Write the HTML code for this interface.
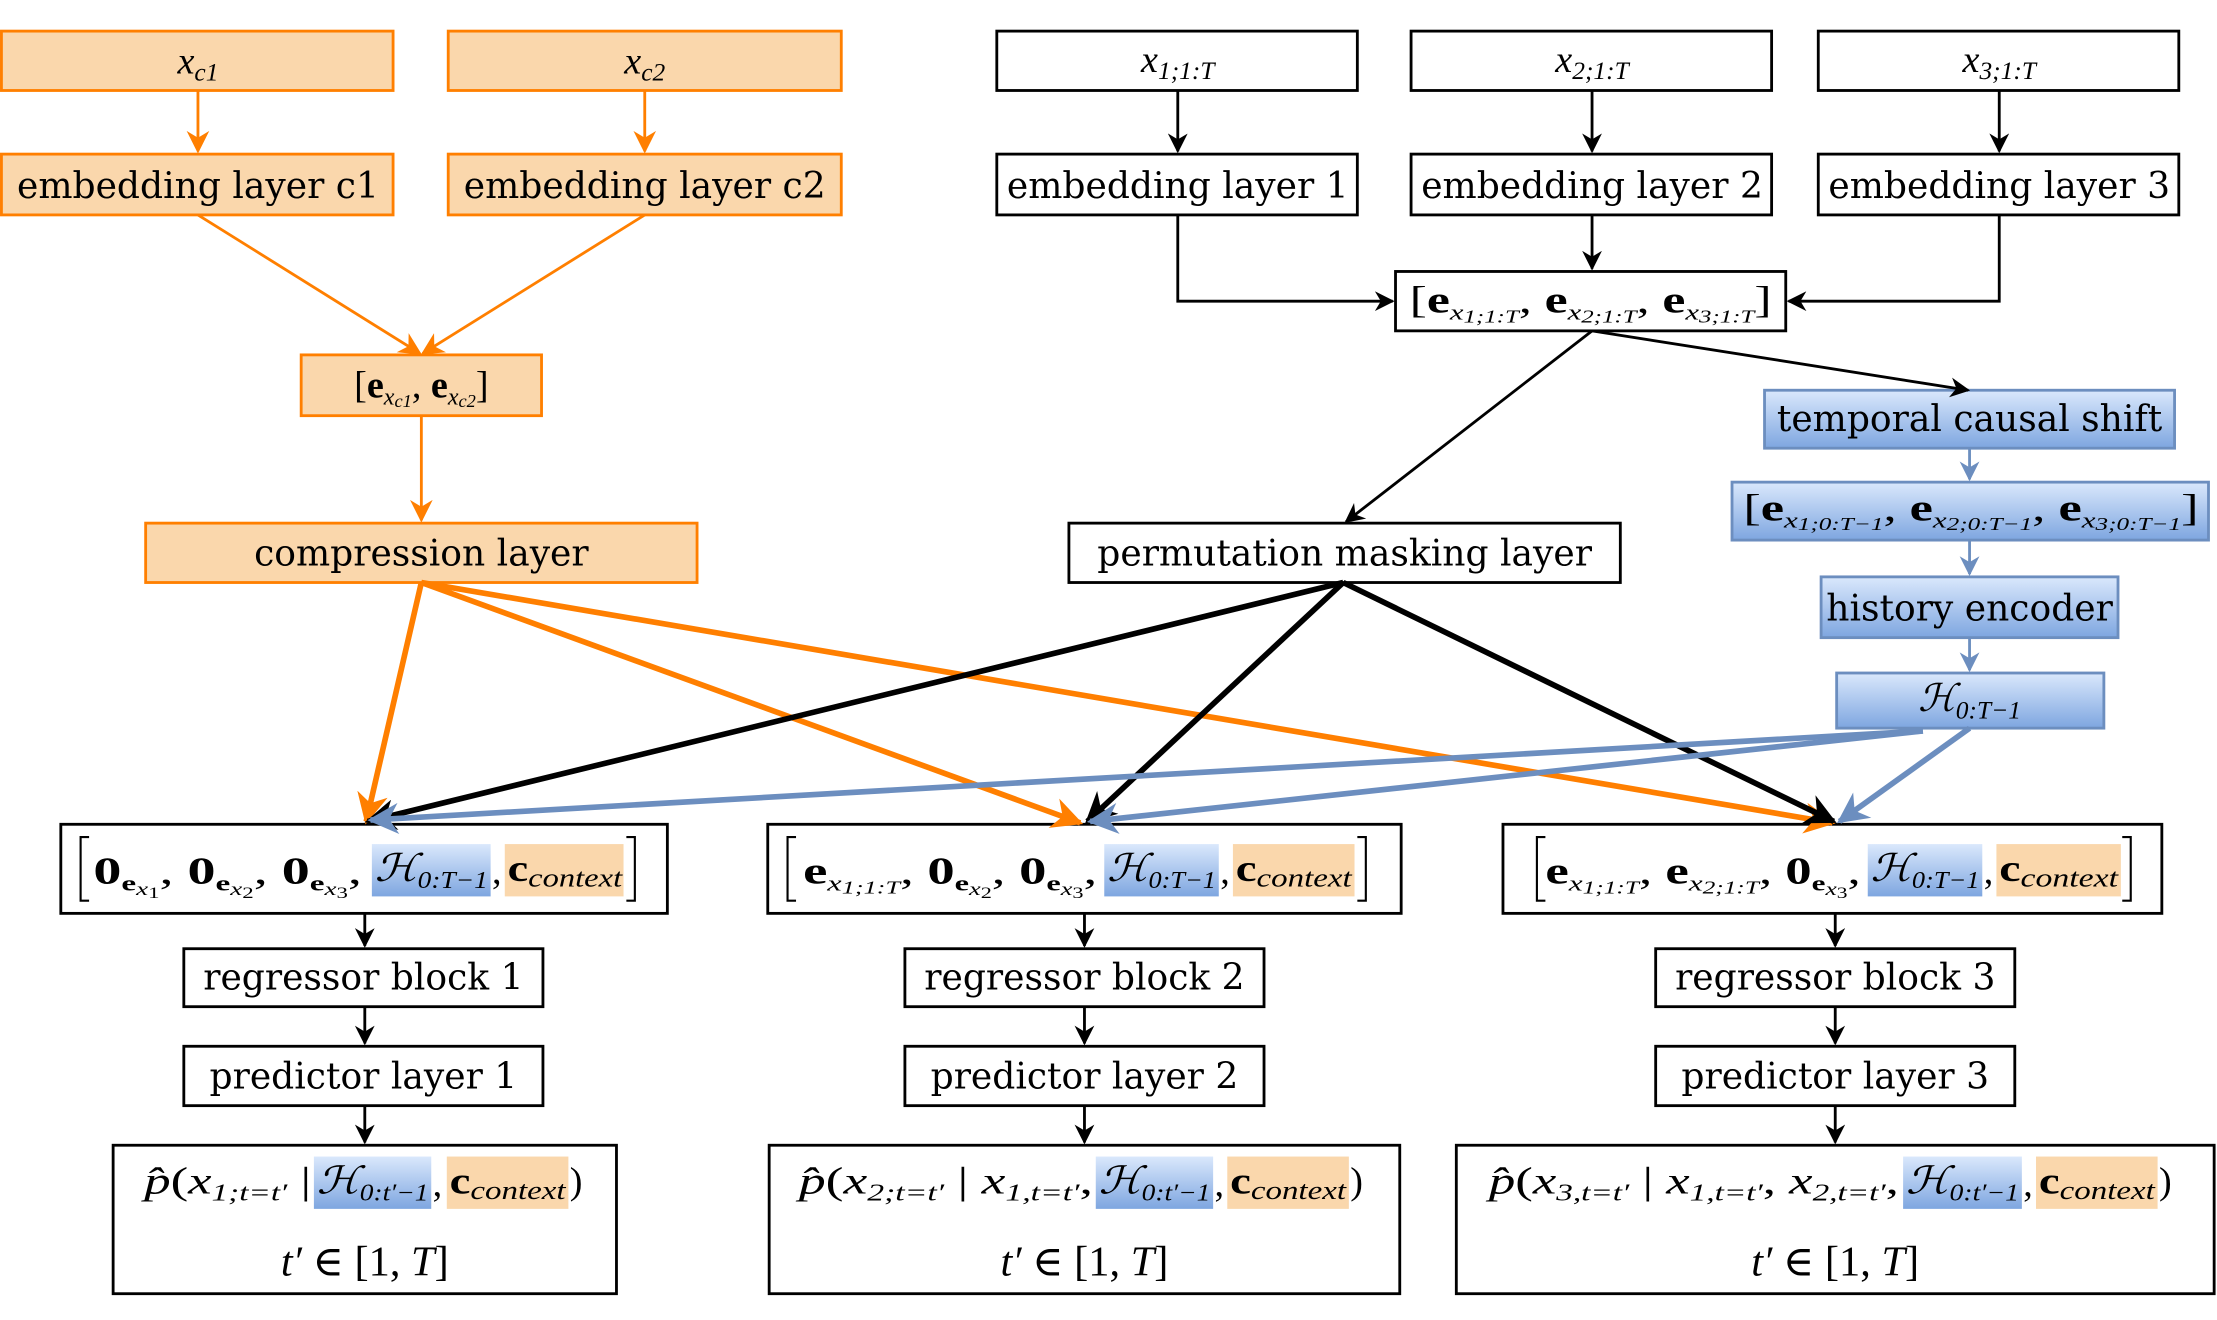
<!DOCTYPE html>
<html><head><meta charset="utf-8"><style>
html,body{margin:0;padding:0;background:#fff;}
svg{display:block;}
text{font-family:"DejaVu Serif","Liberation Serif",serif;fill:#000;}
.m text{font-family:"Liberation Serif","DejaVu Serif",serif;}
</style></head><body>
<svg width="2217" height="1320" viewBox="0 0 1568 933.6" xmlns="http://www.w3.org/2000/svg">
<defs>
<linearGradient id="bg" x1="0" y1="0" x2="0" y2="1"><stop offset="0" stop-color="#dae8fc"/><stop offset="1" stop-color="#7ea6e0"/></linearGradient>
<marker id="ak" viewBox="0 0 10 10" refX="9" refY="5" markerWidth="14" markerHeight="14" markerUnits="userSpaceOnUse" orient="auto"><path d="M0,0 L10,5 L0,10 L3,5 z" fill="#000"/></marker>
<marker id="akb" viewBox="0 0 10 10" refX="9" refY="5" markerWidth="22" markerHeight="22" markerUnits="userSpaceOnUse" orient="auto"><path d="M0,0 L10,5 L0,10 L3,5 z" fill="#000"/></marker>
<marker id="ao" viewBox="0 0 10 10" refX="9" refY="5" markerWidth="16" markerHeight="16" markerUnits="userSpaceOnUse" orient="auto"><path d="M0,0 L10,5 L0,10 L3,5 z" fill="#ff7f00"/></marker>
<marker id="aob" viewBox="0 0 10 10" refX="9" refY="5" markerWidth="22" markerHeight="22" markerUnits="userSpaceOnUse" orient="auto"><path d="M0,0 L10,5 L0,10 L3,5 z" fill="#ff7f00"/></marker>
<marker id="ab" viewBox="0 0 10 10" refX="9" refY="5" markerWidth="14" markerHeight="14" markerUnits="userSpaceOnUse" orient="auto"><path d="M0,0 L10,5 L0,10 L3,5 z" fill="#6c8ebf"/></marker>
<marker id="abb" viewBox="0 0 10 10" refX="9" refY="5" markerWidth="22" markerHeight="22" markerUnits="userSpaceOnUse" orient="auto"><path d="M0,0 L10,5 L0,10 L3,5 z" fill="#6c8ebf"/></marker>
</defs>

<g fill="#fad7ac" stroke="#ff7f00" stroke-width="2">
<rect x="1" y="22" width="277" height="42"/>
<rect x="317" y="22" width="278" height="42"/>
<rect x="1" y="109" width="277" height="43"/>
<rect x="317" y="109" width="278" height="43"/>
<rect x="213" y="251" width="170" height="43"/>
<rect x="103" y="370" width="390" height="42"/>
</g>
<g fill="#fff" stroke="#000" stroke-width="2">
<rect x="705" y="22" width="255" height="42"/>
<rect x="998" y="22" width="255" height="42"/>
<rect x="1286" y="22" width="255" height="42"/>
<rect x="705" y="109" width="255" height="43"/>
<rect x="998" y="109" width="255" height="43"/>
<rect x="1286" y="109" width="255" height="43"/>
<rect x="987" y="192" width="276" height="42"/>
<rect x="756" y="370" width="390" height="42"/>
<rect x="43" y="583" width="429" height="63"/>
<rect x="543" y="583" width="448" height="63"/>
<rect x="1063" y="583" width="466" height="63"/>
<rect x="130" y="671" width="254" height="41"/>
<rect x="640" y="671" width="254" height="41"/>
<rect x="1171" y="671" width="254" height="41"/>
<rect x="130" y="740" width="254" height="42"/>
<rect x="640" y="740" width="254" height="42"/>
<rect x="1171" y="740" width="254" height="42"/>
<rect x="80" y="810" width="356" height="105"/>
<rect x="544" y="810" width="446" height="105"/>
<rect x="1030" y="810" width="536" height="105"/>
</g>
<g fill="url(#bg)" stroke="#6c8ebf" stroke-width="2">
<rect x="1248" y="276" width="290" height="41"/>
<rect x="1225" y="341" width="337" height="41"/>
<rect x="1288" y="408" width="210" height="43"/>
<rect x="1299" y="476" width="189" height="39"/>
</g>
<g fill="url(#bg)">
<rect x="263" y="597" width="84" height="37"/><rect x="781" y="597" width="81" height="37"/><rect x="1321" y="597" width="81" height="37"/>
<rect x="222" y="818" width="83" height="37"/><rect x="775" y="818" width="83" height="37"/><rect x="1346" y="818" width="84" height="37"/>
</g>
<g fill="#fad7ac">
<rect x="357" y="597" width="84" height="37"/><rect x="872" y="597" width="86" height="37"/><rect x="1412" y="597" width="88" height="37"/>
<rect x="316" y="818" width="86" height="37"/><rect x="868" y="818" width="86" height="37"/><rect x="1440" y="818" width="86" height="37"/>
</g>

<g fill="none" stroke="#ff7f00" stroke-width="2">
<path d="M140,64 V107" marker-end="url(#ao)"/>
<path d="M456,64 V107" marker-end="url(#ao)"/>
<path d="M140,152 L297,250" marker-end="url(#ao)"/>
<path d="M456,152 L299,250" marker-end="url(#ao)"/>
<path d="M298,294 V368" marker-end="url(#ao)"/>
</g>
<g fill="none" stroke="#ff7f00" stroke-width="4">
<path d="M298,412 L259,581" marker-end="url(#aob)"/>
<path d="M298,412 L764,582" marker-end="url(#aob)"/>
<path d="M298,412 L1296,582" marker-end="url(#aob)"/>
</g>
<g fill="none" stroke="#000" stroke-width="2">
<path d="M833,64 V107" marker-end="url(#ak)"/>
<path d="M1126,64 V107" marker-end="url(#ak)"/>
<path d="M1414,64 V107" marker-end="url(#ak)"/>
<path d="M833,152 V213 H985" marker-end="url(#ak)"/>
<path d="M1126,152 V190" marker-end="url(#ak)"/>
<path d="M1414,152 V213 H1265" marker-end="url(#ak)"/>
<path d="M1126,234 L952,369" marker-end="url(#ak)"/>
<path d="M1126,234 L1392,276" marker-end="url(#ak)"/>
<path d="M258,646 V669" marker-end="url(#ak)"/>
<path d="M258,712 V738" marker-end="url(#ak)"/>
<path d="M258,782 V808" marker-end="url(#ak)"/>
<path d="M767,646 V669" marker-end="url(#ak)"/>
<path d="M767,712 V738" marker-end="url(#ak)"/>
<path d="M767,782 V808" marker-end="url(#ak)"/>
<path d="M1298,646 V669" marker-end="url(#ak)"/>
<path d="M1298,712 V738" marker-end="url(#ak)"/>
<path d="M1298,782 V808" marker-end="url(#ak)"/>
</g>
<g fill="none" stroke="#000" stroke-width="4">
<path d="M950,412 L260,581" marker-end="url(#akb)"/>
<path d="M950,412 L769,581" marker-end="url(#akb)"/>
<path d="M950,412 L1297,581" marker-end="url(#akb)"/>
</g>
<g fill="none" stroke="#6c8ebf" stroke-width="2">
<path d="M1393,317 V339" marker-end="url(#ab)"/>
<path d="M1393,382 V406" marker-end="url(#ab)"/>
<path d="M1393,451 V474" marker-end="url(#ab)"/>
</g>
<g fill="none" stroke="#6c8ebf" stroke-width="4">
<path d="M1360,517 L262,580" marker-end="url(#abb)"/>
<path d="M1360,517 L771,581" marker-end="url(#abb)"/>
<path d="M1393,515 L1301,581" marker-end="url(#abb)"/>
</g>

<g font-size="25.5" text-anchor="middle">
<text x="140" y="140">embedding layer c1</text>
<text x="456" y="140">embedding layer c2</text>
<text x="298" y="400">compression layer</text>
<text x="833" y="140">embedding layer 1</text>
<text x="1126" y="140">embedding layer 2</text>
<text x="1414" y="140">embedding layer 3</text>
<text x="951" y="400">permutation masking layer</text>
<text x="1393" y="305">temporal causal shift</text>
<text x="1393" y="439">history encoder</text>
<text x="257" y="700">regressor block 1</text>
<text x="767" y="700">regressor block 2</text>
<text x="1298" y="700">regressor block 3</text>
<text x="257" y="770">predictor layer 1</text>
<text x="767" y="770">predictor layer 2</text>
<text x="1298" y="770">predictor layer 3</text>
</g>
<g class="m" font-size="27">
<text x="140" y="52" text-anchor="middle" font-style="italic">x<tspan font-size="18" dy="5">c1</tspan></text>
<text x="456" y="52" text-anchor="middle" font-style="italic">x<tspan font-size="18" dy="5">c2</tspan></text>
<text x="833" y="51" text-anchor="middle" font-style="italic">x<tspan font-size="18" dy="5">1;1:T</tspan></text>
<text x="1126" y="51" text-anchor="middle" font-style="italic">x<tspan font-size="18" dy="5">2;1:T</tspan></text>
<text x="1414" y="51" text-anchor="middle" font-style="italic">x<tspan font-size="18" dy="5">3;1:T</tspan></text>
<text x="298" y="281" text-anchor="middle">[<tspan font-weight="bold">e</tspan><tspan font-size="17" dy="5" font-style="italic">x</tspan><tspan font-size="13" dy="2" font-style="italic">c1</tspan><tspan dy="-7">, </tspan><tspan font-weight="bold">e</tspan><tspan font-size="17" dy="5" font-style="italic">x</tspan><tspan font-size="13" dy="2" font-style="italic">c2</tspan><tspan dy="-7">]</tspan></text>
<text x="997" y="221" textLength="256" lengthAdjust="spacingAndGlyphs">[<tspan font-weight="bold">e</tspan><tspan font-size="16" dy="5" font-style="italic">x</tspan><tspan font-size="13" dy="2" font-style="italic">1;1:T</tspan><tspan dy="-7">, </tspan><tspan font-weight="bold">e</tspan><tspan font-size="16" dy="5" font-style="italic">x</tspan><tspan font-size="13" dy="2" font-style="italic">2;1:T</tspan><tspan dy="-7">, </tspan><tspan font-weight="bold">e</tspan><tspan font-size="16" dy="5" font-style="italic">x</tspan><tspan font-size="13" dy="2" font-style="italic">3;1:T</tspan><tspan dy="-7">]</tspan></text>
<text x="1233" y="368" textLength="322" lengthAdjust="spacingAndGlyphs">[<tspan font-weight="bold">e</tspan><tspan font-size="16" dy="5" font-style="italic">x</tspan><tspan font-size="13" dy="2" font-style="italic">1;0:T−1</tspan><tspan dy="-7">, </tspan><tspan font-weight="bold">e</tspan><tspan font-size="16" dy="5" font-style="italic">x</tspan><tspan font-size="13" dy="2" font-style="italic">2;0:T−1</tspan><tspan dy="-7">, </tspan><tspan font-weight="bold">e</tspan><tspan font-size="16" dy="5" font-style="italic">x</tspan><tspan font-size="13" dy="2" font-style="italic">3;0:T−1</tspan><tspan dy="-7">]</tspan></text>
<text x="1393" y="503" text-anchor="middle"><tspan font-style="italic" font-family="DejaVu Serif">ℋ</tspan><tspan font-size="18" dy="5" font-style="italic">0:T−1</tspan></text>

<text x="66" y="625" textLength="190" lengthAdjust="spacingAndGlyphs"><tspan font-weight="bold">0</tspan><tspan font-size="16" dy="5" font-weight="bold">e</tspan><tspan font-size="13" dy="3" font-style="italic">x</tspan><tspan font-size="11" dy="2">1</tspan><tspan dy="-10">, </tspan><tspan font-weight="bold">0</tspan><tspan font-size="16" dy="5" font-weight="bold">e</tspan><tspan font-size="13" dy="3" font-style="italic">x</tspan><tspan font-size="11" dy="2">2</tspan><tspan dy="-10">, </tspan><tspan font-weight="bold">0</tspan><tspan font-size="16" dy="5" font-weight="bold">e</tspan><tspan font-size="13" dy="3" font-style="italic">x</tspan><tspan font-size="11" dy="2">3</tspan><tspan dy="-10">,</tspan></text>
<text x="265" y="623" textLength="80" lengthAdjust="spacingAndGlyphs"><tspan font-style="italic" font-family="DejaVu Serif">ℋ</tspan><tspan font-size="17" dy="5" font-style="italic">0:T−1</tspan></text>
<text x="348" y="625">,</text>
<text x="359" y="623" textLength="81" lengthAdjust="spacingAndGlyphs"><tspan font-weight="bold">c</tspan><tspan font-size="19" dy="4" font-style="italic">context</tspan></text>

<text x="568" y="625" textLength="208" lengthAdjust="spacingAndGlyphs"><tspan font-weight="bold">e</tspan><tspan font-size="16" dy="5" font-style="italic">x</tspan><tspan font-size="13" dy="2" font-style="italic">1;1:T</tspan><tspan dy="-7">, </tspan><tspan font-weight="bold">0</tspan><tspan font-size="16" dy="5" font-weight="bold">e</tspan><tspan font-size="13" dy="3" font-style="italic">x</tspan><tspan font-size="11" dy="2">2</tspan><tspan dy="-10">, </tspan><tspan font-weight="bold">0</tspan><tspan font-size="16" dy="5" font-weight="bold">e</tspan><tspan font-size="13" dy="3" font-style="italic">x</tspan><tspan font-size="11" dy="2">3</tspan><tspan dy="-10">,</tspan></text>
<text x="783" y="623" textLength="77" lengthAdjust="spacingAndGlyphs"><tspan font-style="italic" font-family="DejaVu Serif">ℋ</tspan><tspan font-size="17" dy="5" font-style="italic">0:T−1</tspan></text>
<text x="863" y="625">,</text>
<text x="874" y="623" textLength="82" lengthAdjust="spacingAndGlyphs"><tspan font-weight="bold">c</tspan><tspan font-size="19" dy="4" font-style="italic">context</tspan></text>

<text x="1093" y="625" textLength="223" lengthAdjust="spacingAndGlyphs"><tspan font-weight="bold">e</tspan><tspan font-size="16" dy="5" font-style="italic">x</tspan><tspan font-size="13" dy="2" font-style="italic">1;1:T</tspan><tspan dy="-7">, </tspan><tspan font-weight="bold">e</tspan><tspan font-size="16" dy="5" font-style="italic">x</tspan><tspan font-size="13" dy="2" font-style="italic">2;1:T</tspan><tspan dy="-7">, </tspan><tspan font-weight="bold">0</tspan><tspan font-size="16" dy="5" font-weight="bold">e</tspan><tspan font-size="13" dy="3" font-style="italic">x</tspan><tspan font-size="11" dy="2">3</tspan><tspan dy="-10">,</tspan></text>
<text x="1323" y="623" textLength="77" lengthAdjust="spacingAndGlyphs"><tspan font-style="italic" font-family="DejaVu Serif">ℋ</tspan><tspan font-size="17" dy="5" font-style="italic">0:T−1</tspan></text>
<text x="1403" y="625">,</text>
<text x="1414" y="623" textLength="84" lengthAdjust="spacingAndGlyphs"><tspan font-weight="bold">c</tspan><tspan font-size="19" dy="4" font-style="italic">context</tspan></text>

<text x="102" y="844" textLength="118" lengthAdjust="spacingAndGlyphs"><tspan font-style="italic">p̂</tspan>(<tspan font-style="italic">x</tspan><tspan font-size="17" dy="5" font-style="italic">1;t=t′</tspan><tspan dy="-5"> | </tspan></text>
<text x="224" y="844" textLength="79" lengthAdjust="spacingAndGlyphs"><tspan font-style="italic" font-family="DejaVu Serif">ℋ</tspan><tspan font-size="17" dy="5" font-style="italic">0:t′−1</tspan></text>
<text x="306" y="846">,</text>
<text x="318" y="844" textLength="82" lengthAdjust="spacingAndGlyphs"><tspan font-weight="bold">c</tspan><tspan font-size="19" dy="4" font-style="italic">context</tspan></text>
<text x="403" y="844">)</text>

<text x="565" y="844" textLength="208" lengthAdjust="spacingAndGlyphs"><tspan font-style="italic">p̂</tspan>(<tspan font-style="italic">x</tspan><tspan font-size="17" dy="5" font-style="italic">2;t=t′</tspan><tspan dy="-5"> | </tspan><tspan font-style="italic">x</tspan><tspan font-size="17" dy="5" font-style="italic">1,t=t′</tspan><tspan dy="-5">,</tspan></text>
<text x="777" y="844" textLength="79" lengthAdjust="spacingAndGlyphs"><tspan font-style="italic" font-family="DejaVu Serif">ℋ</tspan><tspan font-size="17" dy="5" font-style="italic">0:t′−1</tspan></text>
<text x="859" y="846">,</text>
<text x="870" y="844" textLength="82" lengthAdjust="spacingAndGlyphs"><tspan font-weight="bold">c</tspan><tspan font-size="19" dy="4" font-style="italic">context</tspan></text>
<text x="955" y="844">)</text>

<text x="1053" y="844" textLength="290" lengthAdjust="spacingAndGlyphs"><tspan font-style="italic">p̂</tspan>(<tspan font-style="italic">x</tspan><tspan font-size="17" dy="5" font-style="italic">3,t=t′</tspan><tspan dy="-5"> | </tspan><tspan font-style="italic">x</tspan><tspan font-size="17" dy="5" font-style="italic">1,t=t′</tspan><tspan dy="-5">, </tspan><tspan font-style="italic">x</tspan><tspan font-size="17" dy="5" font-style="italic">2,t=t′</tspan><tspan dy="-5">,</tspan></text>
<text x="1348" y="844" textLength="80" lengthAdjust="spacingAndGlyphs"><tspan font-style="italic" font-family="DejaVu Serif">ℋ</tspan><tspan font-size="17" dy="5" font-style="italic">0:t′−1</tspan></text>
<text x="1431" y="846">,</text>
<text x="1442" y="844" textLength="82" lengthAdjust="spacingAndGlyphs"><tspan font-weight="bold">c</tspan><tspan font-size="19" dy="4" font-style="italic">context</tspan></text>
<text x="1527" y="844">)</text>

<text x="258" y="902" text-anchor="middle" font-size="30"><tspan font-style="italic">t′</tspan> ∈ [1, <tspan font-style="italic">T</tspan>]</text>
<text x="767" y="902" text-anchor="middle" font-size="30"><tspan font-style="italic">t′</tspan> ∈ [1, <tspan font-style="italic">T</tspan>]</text>
<text x="1298" y="902" text-anchor="middle" font-size="30"><tspan font-style="italic">t′</tspan> ∈ [1, <tspan font-style="italic">T</tspan>]</text>
</g>
<g fill="none" stroke="#000" stroke-width="1.5">
<path d="M63,592 H57 V637 H63"/><path d="M443,592 H449 V637 H443"/>
<path d="M563,592 H557 V637 H563"/><path d="M960,592 H966 V637 H960"/>
<path d="M1093,592 H1087 V637 H1093"/><path d="M1501,592 H1507 V637 H1501"/>
</g>
</svg>
</body></html>
